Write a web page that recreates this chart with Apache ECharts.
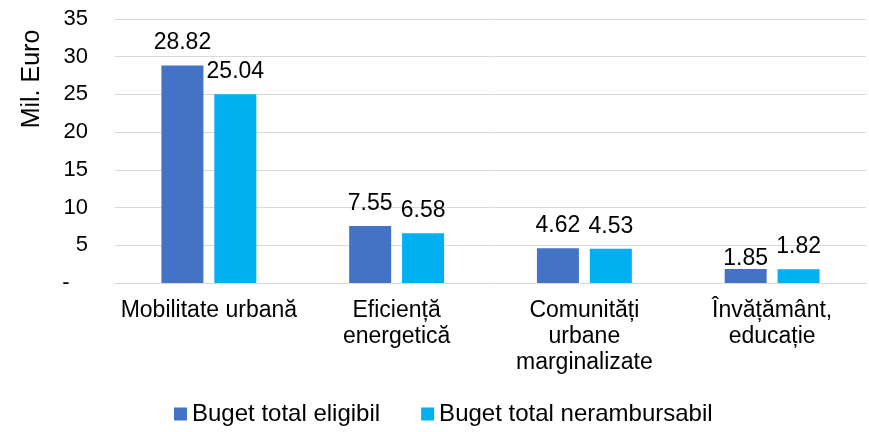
<!DOCTYPE html>
<html>
<head>
<meta charset="utf-8">
<script src="https://cdn.jsdelivr.net/npm/echarts@6/dist/echarts.min.js"></script>
<style>
  html, body { margin: 0; padding: 0; background: #fff; }
  #chart { width: 869px; height: 432px; }
</style>
</head>
<body>
<div id="chart"></div>
<script>
// date
const categories = [
  'Mobilitate urbană',
  'Eficiență\nenergetică',
  'Comunități\nurbane\nmarginalizate',
  'Învățământ,\neducație'
];
const seriesNames = ['Buget total eligibil', 'Buget total nerambursabil'];
const eligibil = [28.82, 7.55, 4.62, 1.85];
const nerambursabil = [25.04, 6.58, 4.53, 1.82];
const yTicks = { min: 0, max: 35, interval: 5 };

const font = 'Arial, "Liberation Sans", sans-serif';
const chart = echarts.init(document.getElementById('chart'));

const labelStyle = {
  show: true,
  position: 'top',
  distance: 11,
  color: '#000',
  fontSize: 23,
  fontFamily: font,
  formatter: (p) => p.value.toFixed(2)
};

// eticheta 1.85 e trasa mai jos in original
const eligibilData = eligibil.map((v, i) =>
  i === 3 ? { value: v, label: { distance: -1 } } : v
);

const option = {
  animation: false,
  grid: { left: 115, right: 3, top: 19, bottom: 149 },
  legend: {
    bottom: 1,
    left: 169,
    itemWidth: 13,
    itemHeight: 13,
    itemGap: 41,
    icon: 'rect',
    textStyle: { color: '#000', fontSize: 24, fontFamily: font },
    data: seriesNames
  },
  graphic: [
    {
      type: 'text',
      x: 32,
      y: 79,
      rotation: Math.PI / 2,
      style: {
        text: 'Mil. Euro',
        fill: '#000',
        fontSize: 25,
        fontFamily: font,
        align: 'center',
        verticalAlign: 'middle'
      }
    }
  ],
  xAxis: {
    type: 'category',
    data: categories,
    axisLine: { show: true, lineStyle: { color: '#d9d9d9', width: 1 } },
    axisTick: { show: false },
    axisLabel: {
      color: '#000',
      fontSize: 23,
      fontFamily: font,
      margin: 15,
      lineHeight: 26,
      interval: 0
    }
  },
  yAxis: {
    type: 'value',
    min: yTicks.min,
    max: yTicks.max,
    interval: yTicks.interval,
    axisLine: { show: false },
    axisTick: { show: false },
    splitLine: { lineStyle: { color: '#d9d9d9', width: 1 } },
    axisLabel: {
      color: '#000',
      fontSize: 22,
      fontFamily: font,
      margin: 27,
      formatter: (v) => (v === 0 ? '-   ' : String(v))
    }
  },
  series: [
    {
      name: seriesNames[0],
      type: 'bar',
      data: eligibilData,
      barWidth: 42,
      barGap: '26%',
      itemStyle: { color: '#4472c4' },
      label: labelStyle
    },
    {
      name: seriesNames[1],
      type: 'bar',
      data: nerambursabil,
      barWidth: 42,
      itemStyle: { color: '#00b0f0' },
      label: labelStyle
    }
  ]
};

chart.setOption(option);
</script>
</body>
</html>
